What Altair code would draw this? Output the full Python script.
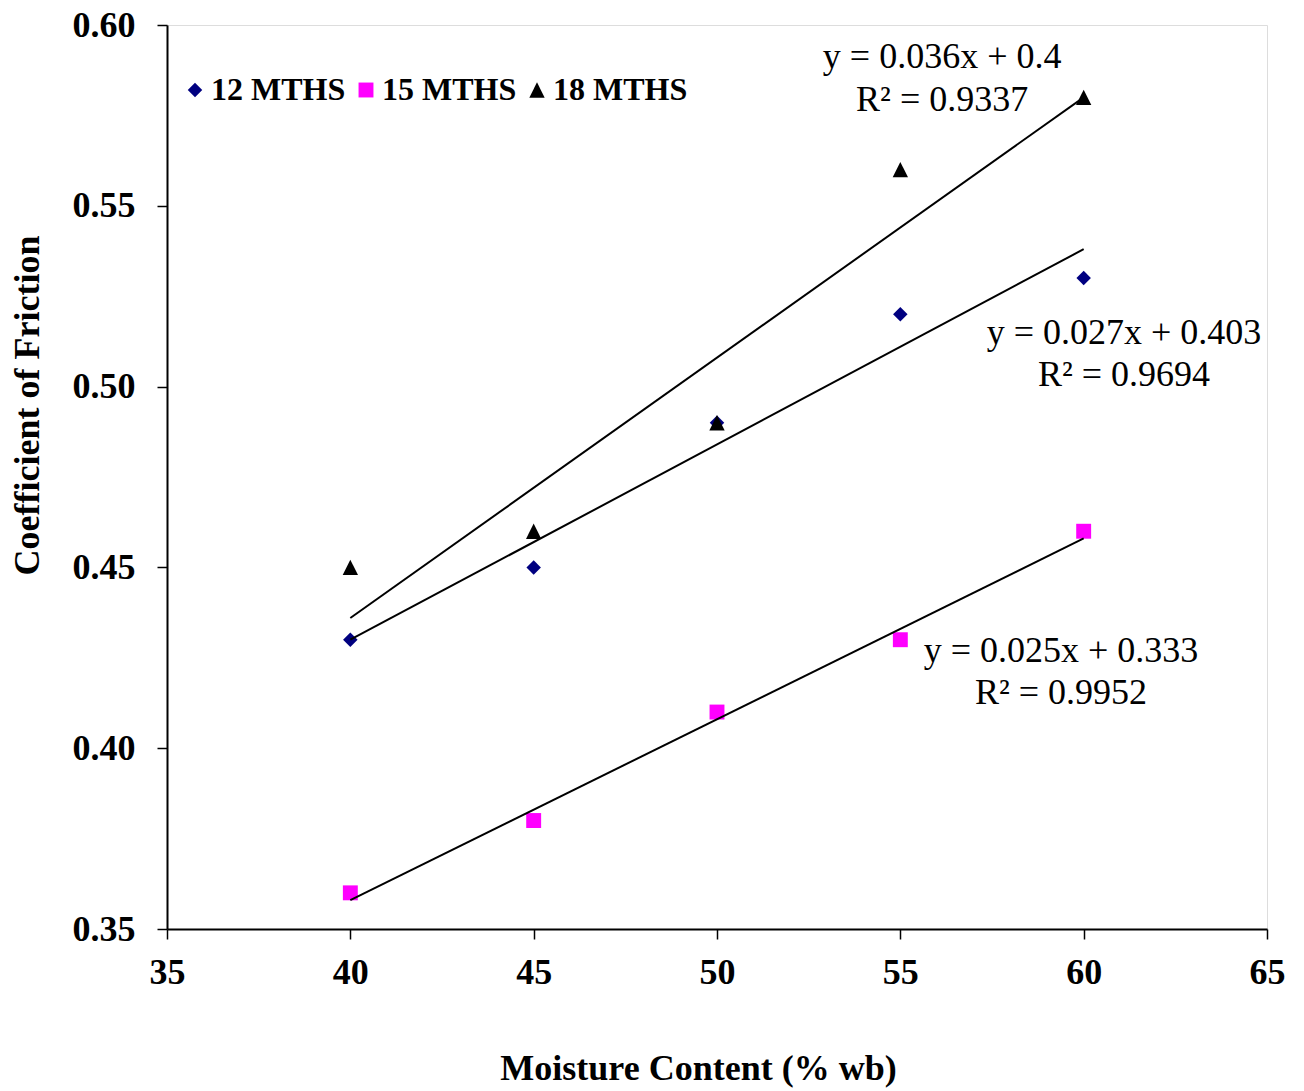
import altair as alt
import pandas as pd

# ---- data ----
moisture = [40, 45, 50, 55, 60]
series_names = ["12 MTHS", "15 MTHS", "18 MTHS"]
cof_12 = [0.43, 0.45, 0.49, 0.52, 0.53]
cof_15 = [0.36, 0.38, 0.41, 0.43, 0.46]
cof_18 = [0.45, 0.46, 0.49, 0.56, 0.58]

x_ticks = [35, 40, 45, 50, 55, 60, 65]
y_ticks = [0.35, 0.40, 0.45, 0.50, 0.55, 0.60]

eq_text = ["y = 0.036x + 0.4", "R² = 0.9337",
           "y = 0.027x + 0.403", "R² = 0.9694",
           "y = 0.025x + 0.333", "R² = 0.9952"]
eq_x = [56.14, 56.14, 61.1, 61.1, 59.38, 59.38]
eq_y = [0.5912, 0.5793, 0.5148, 0.5032, 0.4269, 0.4153]

rows = []
for name, vals in zip(series_names, [cof_12, cof_15, cof_18]):
    for m, v in zip(moisture, vals):
        rows.append({"x": m, "y": v, "series": name})
df = pd.DataFrame(rows)
ann = pd.DataFrame({"x": eq_x, "y": eq_y, "text": eq_text})

FONT = "Liberation Serif"
TRIANGLE = "M0,-1L1,1L-1,1Z"

xscale = alt.Scale(domain=[35, 65], nice=False, zero=False)
yscale = alt.Scale(domain=[0.35, 0.60], nice=False, zero=False)

xaxis = alt.Axis(values=x_ticks, format="d", title="Moisture Content (% wb)",
                 grid=False, labelFont=FONT, labelFontSize=36, labelFontWeight="bold",
                 labelColor="black", labelBaseline="middle", labelPadding=33,
                 labelFlush=False, labelBound=False, labelOverlap=False,
                 tickSize=10, tickColor="black", tickWidth=1.5,
                 domainColor="black", domainWidth=2,
                 titleFont=FONT, titleFontSize=36, titleFontWeight="bold",
                 titleColor="black", titleX=531, titleY=139, titleBaseline="middle",
                 titleAlign="center")
yaxis = alt.Axis(values=y_ticks, format=".2f", title="Coefficient of Friction",
                 grid=False, labelFont=FONT, labelFontSize=36, labelFontWeight="bold",
                 labelColor="black", labelPadding=22, labelFlush=False, labelOverlap=False,
                 tickSize=10, tickColor="black", tickWidth=1.5,
                 domainColor="black", domainWidth=2,
                 titleFont=FONT, titleFontSize=36, titleFontWeight="bold",
                 titleColor="black", titleX=-140, titleY=380, titleAngle=270,
                 titleBaseline="middle", titleAlign="center")

base = alt.Chart(df)

points = base.mark_point(filled=True, opacity=1, strokeWidth=0).encode(
    x=alt.X("x:Q", scale=xscale, axis=xaxis),
    y=alt.Y("y:Q", scale=yscale, axis=yaxis),
    color=alt.Color("series:N",
                    scale=alt.Scale(domain=series_names, range=["#000080", "#FF00FF", "#000000"]),
                    legend=alt.Legend(title=None, orient="none", legendX=12, legendY=49,
                                      direction="horizontal", labelFont=FONT, labelFontSize=32,
                                      labelFontWeight="bold", labelColor="black",
                                      symbolSize=210, labelOffset=0, symbolOffset=0,
                                      columnPadding=4, symbolStrokeWidth=0, padding=0)),
    shape=alt.Shape("series:N",
                    scale=alt.Scale(domain=series_names, range=["diamond", "square", TRIANGLE])),
    size=alt.Size("series:N",
                  scale=alt.Scale(domain=series_names, range=[210, 235, 240]), legend=None),
    order=alt.Order("series:N"),
)

trend = base.transform_regression("x", "y", groupby=["series"], extent=[40, 60]).mark_line(
    color="black", strokeWidth=2
).encode(
    x=alt.X("x:Q", scale=xscale),
    y=alt.Y("y:Q", scale=yscale),
    detail="series:N",
)

labels = alt.Chart(ann).mark_text(font=FONT, fontSize=36, align="center",
                                  baseline="middle", color="black").encode(
    x=alt.X("x:Q", scale=xscale),
    y=alt.Y("y:Q", scale=yscale),
    text="text:N",
)

chart = alt.layer(points, trend, labels).properties(
    width=1100, height=904,
    padding={"left": 167, "top": 25, "right": 37, "bottom": 162},
    autosize=alt.AutoSizeParams(type="none"),
).configure_view(stroke="#808080", strokeWidth=2).configure(background="white")

chart.save("out.html", embed_options={"renderer": "svg", "actions": False})
